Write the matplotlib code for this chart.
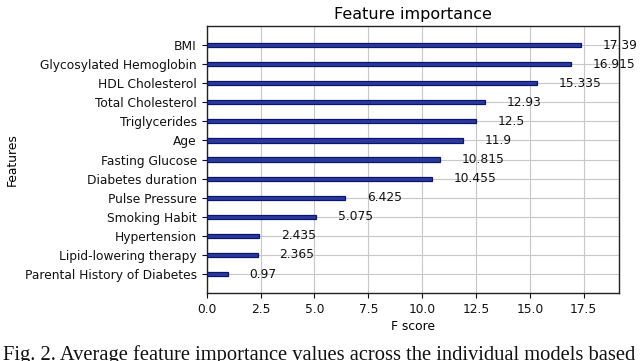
import matplotlib
matplotlib.use("Agg")
import matplotlib.pyplot as plt

features = ["BMI", "Glycosylated Hemoglobin", "HDL Cholesterol", "Total Cholesterol",
            "Triglycerides", "Age", "Fasting Glucose", "Diabetes duration",
            "Pulse Pressure", "Smoking Habit", "Hypertension",
            "Lipid-lowering therapy", "Parental History of Diabetes"]
scores = [17.39, 16.915, 15.335, 12.93, 12.5, 11.9, 10.815, 10.455,
          6.425, 5.075, 2.435, 2.365, 0.97]
score_labels = ["17.39", "16.915", "15.335", "12.93", "12.5", "11.9", "10.815",
                "10.455", "6.425", "5.075", "2.435", "2.365", "0.97"]
xticks = [0.0, 2.5, 5.0, 7.5, 10.0, 12.5, 15.0, 17.5]

plt.rcParams['font.family'] = ['DejaVu Sans']
fs = 8.8
fig = plt.figure(figsize=(6.4, 3.61), dpi=100)
ax = fig.add_axes([0.323, 0.188, 0.644, 0.74])

feat_r = features[::-1]
sc_r = scores[::-1]
lab_r = score_labels[::-1]
ylocs = list(range(len(feat_r)))
ax.barh(ylocs, sc_r, height=0.22, align='center', color='#2a3a9c',
        edgecolor='#0b1470', linewidth=0.9, zorder=3)
for y, v, t in zip(ylocs, sc_r, lab_r):
    ax.text(v + 1, y, t, va='center', fontsize=fs, color='#111111', zorder=4)

ax.set_yticks(ylocs)
ax.set_yticklabels(feat_r, fontsize=fs)
ax.set_xticks(xticks)
ax.set_xticklabels([f"{x:.1f}" for x in xticks], fontsize=fs)
ax.set_xlim(0, max(scores) * 1.1)
ax.set_ylim(-1, len(features))
ax.grid(True, color='#c8c8c8', linewidth=0.8, zorder=0)
ax.set_axisbelow(True)
ax.set_title("Feature importance", fontsize=11.5, pad=5)
ax.set_xlabel("F score", fontsize=fs, labelpad=3)
ax.set_ylabel("Features", fontsize=fs)
ax.yaxis.set_label_coords(-0.455, 0.5)
for s in ax.spines.values():
    s.set_color('#222222')
    s.set_linewidth(1.0)
ax.tick_params(colors='#111111', length=3.5)

fig.text(0.004, -0.012, "Fig. 2. Average feature importance values across the individual models based",
         family='Liberation Serif', fontsize=14.8, ha='left', va='bottom', color='#111111')

fig.savefig("out.png", dpi=100)
